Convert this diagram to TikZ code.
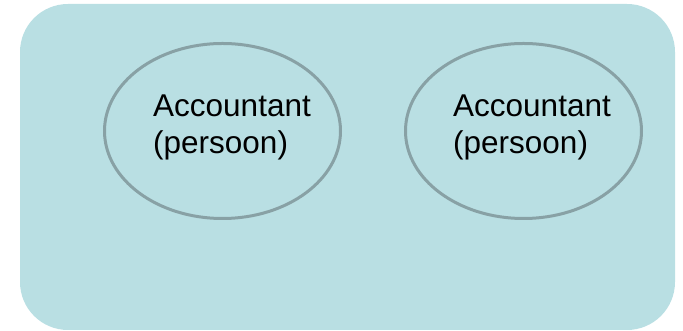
\documentclass[tikz,border=0pt]{standalone}
\usepackage{fontspec}
\setmainfont{Liberation Sans}
\usetikzlibrary{shapes.geometric}
\definecolor{panel}{HTML}{B9DFE3}
\definecolor{ring}{HTML}{88A1A5}
\begin{document}
\begin{tikzpicture}[x=1pt,y=1pt,
  panelbox/.style={fill=panel,draw=none,rounded corners=48pt},
  actor/.style={draw=ring,line width=3pt,shape=ellipse,minimum width=236pt,minimum height=175pt,inner sep=0pt},
  actortext/.style={anchor=north west,inner sep=0pt,align=left,font=\fontsize{31.5}{37}\selectfont,text=black}]
\useasboundingbox (0,0) rectangle (683,331);
\path[panelbox] (20,1) rectangle (675,327);
\node[actor] (e1) at (222.5,200) {};
\node[actor] (e2) at (523.5,200) {};
\node[actortext] (t1) at (153,236) {Accountant\\(persoon)};
\node[actortext] (t2) at (453,236) {Accountant\\(persoon)};
\end{tikzpicture}
\end{document}
